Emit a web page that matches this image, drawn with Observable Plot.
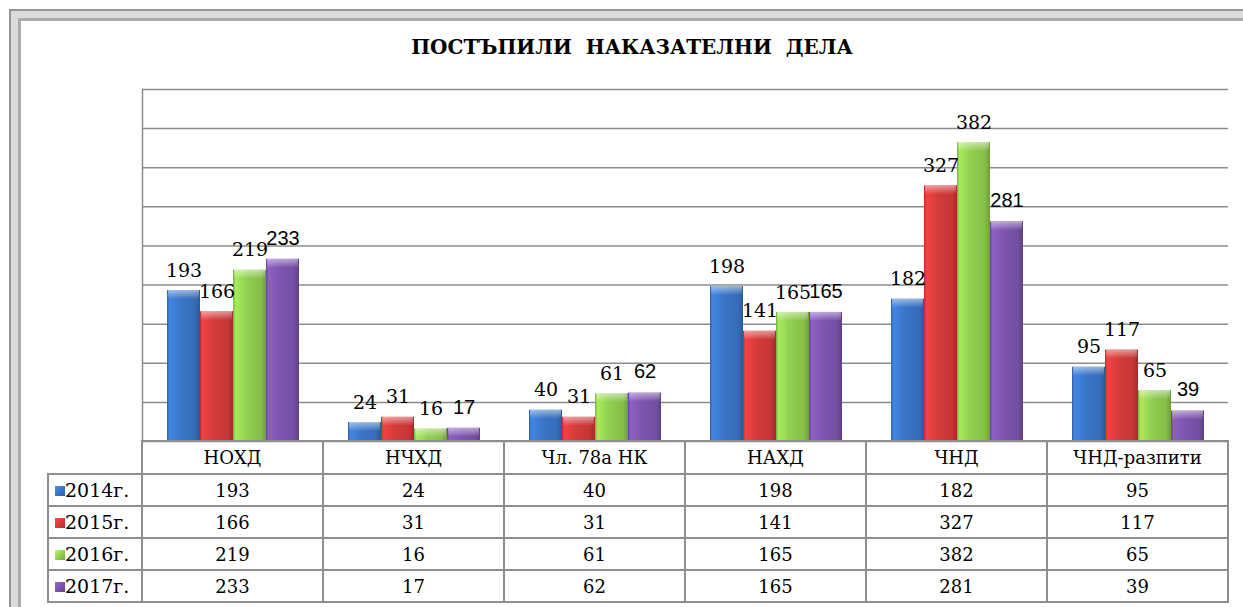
<!DOCTYPE html>
<html><head><meta charset="utf-8">
<script src="https://cdn.jsdelivr.net/npm/d3@7"></script>
<script src="https://cdn.jsdelivr.net/npm/@observablehq/plot@0.6"></script>
<style>
html,body{margin:0;padding:0;width:1243px;height:607px;overflow:hidden;background:#fff;}
#frameOuter{position:absolute;left:9px;top:9px;width:1300px;height:700px;border:2px solid #959595;background:#dcdcdc;}
#frameInner{position:absolute;left:7px;top:7px;width:1300px;height:700px;border:3px solid #ababab;background:#fff;}
#title{position:absolute;left:332px;width:600px;top:37px;line-height:20px;text-align:center;font-family:"DejaVu Serif";font-weight:bold;font-size:20px;word-spacing:7px;color:#000;white-space:nowrap;}
#chart{position:absolute;left:0;top:0;}
#tbl{position:absolute;border-collapse:collapse;table-layout:fixed;font-family:"DejaVu Serif";color:#000;}
#tbl td{border:2px solid #8e8e8e;text-align:center;padding:0;font-size:18px;white-space:nowrap;}
#tbl td.blank{border:none;}
#tbl td.leg{text-align:left;padding-left:6px;font-size:19px;}
.sw{display:inline-block;width:10px;height:10px;vertical-align:1px;}
</style></head>
<body>
<div id="frameOuter"><div id="frameInner"></div></div>
<div id="title">ПОСТЪПИЛИ НАКАЗАТЕЛНИ ДЕЛА</div>
<div id="chart"></div>
<script>
const categories = ["НОХД", "НЧХД", "Чл. 78а НК", "НАХД", "ЧНД", "ЧНД-разпити"];
const years = ["2014г.", "2015г.", "2016г.", "2017г."];
const values2014 = [193, 24, 40, 198, 182, 95];
const values2015 = [166, 31, 31, 141, 327, 117];
const values2016 = [219, 16, 61, 165, 382, 65];
const values2017 = [233, 17, 62, 165, 281, 39];
const yTicks = [0, 50, 100, 150, 200, 250, 300, 350, 400, 450];
const seriesColors = ["#3a76c8", "#d63b3b", "#92d050", "#7e55b0"];

const series = [values2014, values2015, values2016, values2017];
const data = years.flatMap((year, j) =>
  categories.map((category, i) => ({year, category, value: series[j][i]})));

const chart = Plot.plot({
  width: 1243,
  height: 442,
  marginTop: 89,
  marginBottom: 1,
  marginLeft: 142,
  marginRight: 15,
  style: {background: "transparent", overflow: "visible"},
  fx: {domain: categories, padding: 0, axis: null},
  x: {domain: years, paddingInner: 0, paddingOuter: 0.72, axis: null},
  y: {domain: [0, 450], axis: null},
  color: {domain: years, range: years.map((_, j) => `url(#bar${j})`)},
  marks: [
    Plot.ruleY(yTicks, {stroke: "#8c8c8c", strokeWidth: 1.5}),
    Plot.barY(data, {fx: "category", x: "year", y: "value", fill: "year"}),
    Plot.barY(data, {fx: "category", x: "year", y1: "value", y2: "value", insetBottom: -9, insetLeft: 1, insetRight: 1, fill: "url(#cap)"}),
    Plot.text(data.filter(d => d.year !== years[3]), {
      fx: "category", x: "year", y: "value", text: "value", dy: -20,
      fontSize: 19, fontFamily: "DejaVu Serif", fill: "#000"
    }),
    Plot.text(data.filter(d => d.year === years[3]), {
      fx: "category", x: "year", y: "value", text: "value", dy: -21,
      fontSize: 20, fontFamily: "Liberation Sans", fill: "#000"
    }),
    Plot.frame({anchor: "left", facet: "super", stroke: "#8c8c8c", strokeWidth: 1.5})
  ]
});

// gradient definitions for a shaded look
const svg = d3.select(chart.tagName.toLowerCase() === "svg" ? chart : chart.querySelector("svg"));
const defs = svg.insert("defs", ":first-child");
seriesColors.forEach((c, j) => {
  const base = d3.color(c);
  const g = defs.append("linearGradient").attr("id", `bar${j}`).attr("x1", 0).attr("x2", 1).attr("y1", 0).attr("y2", 0);
  [[0, base.darker(0.5)], [0.08, base.brighter(0.35)], [0.4, base], [0.85, base.darker(0.25)], [1, base.darker(0.8)]]
    .forEach(([o, col]) => g.append("stop").attr("offset", o).attr("stop-color", col.formatHex()));
});
const cap = defs.append("linearGradient").attr("id", "cap").attr("x1", 0).attr("x2", 0).attr("y1", 0).attr("y2", 1);
cap.append("stop").attr("offset", 0).attr("stop-color", "#fff").attr("stop-opacity", 0.5);
cap.append("stop").attr("offset", 1).attr("stop-color", "#fff").attr("stop-opacity", 0);

document.getElementById("chart").appendChild(chart);

// data table aligned to the facet scale
const fxs = chart.scale("fx");
const left0 = fxs.range[0];
const colW = fxs.bandwidth;
const legW = left0 - 48;
const table = d3.select("body").append("table").attr("id", "tbl")
  .style("left", "47px").style("top", "440px")
  .style("width", (legW + colW * categories.length) + "px");
const cg = table.append("colgroup");
cg.append("col").style("width", legW + "px");
categories.forEach(() => cg.append("col").style("width", colW + "px"));
const head = table.append("tr").style("height", "33px");
head.append("td").attr("class", "blank");
categories.forEach(c => head.append("td").text(c));
years.forEach((y, j) => {
  const tr = table.append("tr").style("height", "32px");
  const base = d3.color(seriesColors[j]);
  const leg = tr.append("td").attr("class", "leg");
  leg.append("span").attr("class", "sw")
    .style("background", `linear-gradient(135deg, ${base.brighter(0.6).formatHex()}, ${base.formatHex()} 50%, ${base.darker(0.6).formatHex()})`);
  leg.append("span").text(y);
  series[j].forEach(v => tr.append("td").text(v));
});
</script>
</body></html>
